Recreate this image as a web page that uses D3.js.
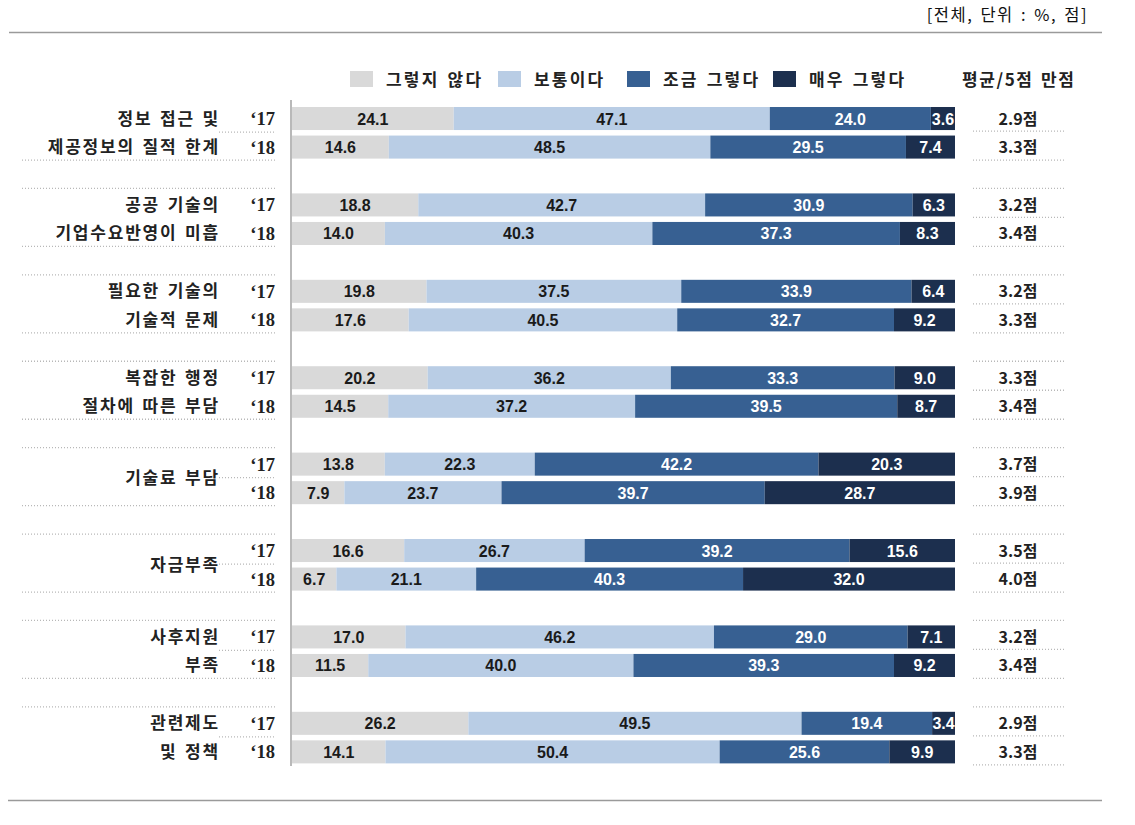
<!DOCTYPE html>
<html><head><meta charset="utf-8">
<script src="https://cdn.jsdelivr.net/npm/d3@7"></script>
<style>
html,body{margin:0;padding:0;background:#fff;}
svg{display:block;}
</style></head>
<body>
<script>
// ---------------- data ----------------
const groups = ["g1","g2","g3","g4","g5","g6","g7","g8"];
const groupLabels = [
  ["정보 접근 및","제공정보의 질적 한계"],
  ["공공 기술의","기업수요반영이 미흡"],
  ["필요한 기술의","기술적 문제"],
  ["복잡한 행정","절차에 따른 부담"],
  ["기술료 부담"],
  ["자금부족"],
  ["사후지원","부족"],
  ["관련제도","및 정책"]
];
const years = ["‘17","‘18"];
const seriesNames = ["그렇지 않다","보통이다","조금 그렇다","매우 그렇다"];
const notAgree   = [24.1,14.6, 18.8,14.0, 19.8,17.6, 20.2,14.5, 13.8,7.9, 16.6,6.7, 17.0,11.5, 26.2,14.1];
const neutral    = [47.1,48.5, 42.7,40.3, 37.5,40.5, 36.2,37.2, 22.3,23.7, 26.7,21.1, 46.2,40.0, 49.5,50.4];
const someAgree  = [24.0,29.5, 30.9,37.3, 33.9,32.7, 33.3,39.5, 42.2,39.7, 39.2,40.3, 29.0,39.3, 19.4,25.6];
const veryAgree  = [3.6,7.4, 6.3,8.3, 6.4,9.2, 9.0,8.7, 20.3,28.7, 15.6,32.0, 7.1,9.2, 3.4,9.9];
const avgScore   = ["2.9","3.3", "3.2","3.4", "3.2","3.3", "3.3","3.4", "3.7","3.9", "3.5","4.0", "3.2","3.4", "2.9","3.3"];
const midDotted  = ["g1","g5","g6","g7","g8"];
const unitText = "[전체, 단위 : %, 점]";
const avgHeader = "평균/5점 만점";

// ---------------- build rows ----------------
const keys = ["k0","k1","k2","k3"];
const rows = [];
groups.forEach((g,gi)=>{
  years.forEach((yr,yi)=>{
    const i = gi*2+yi;
    rows.push({group:g, year:yr, k0:notAgree[i], k1:neutral[i], k2:someAgree[i], k3:veryAgree[i], avg:avgScore[i]});
  });
});

const colors = ["#d9d9d9","#b9cde5","#376092","#1c2f4e"];
const textColors = ["#1a1a1a","#1a1a1a","#ffffff","#ffffff"];

const W = 1135, H = 825;
const svg = d3.select("body").append("svg").attr("width",W).attr("height",H);

const KFONT = "'Noto Sans CJK KR','Noto Sans',sans-serif";
const NFONT = "'Liberation Sans',Arial,sans-serif";

// scales
const x = d3.scaleLinear().domain([0,1]).range([292,955]);
const yG = d3.scaleBand().domain(groups).range([89.6, 89.6+8*86.4]).padding(0);
const yY = d3.scaleBand().domain(years).range([0, yG.bandwidth()]).paddingInner(0.193).paddingOuter(0.61);
const bh = yY.bandwidth();
const rowY = r => yG(r.group) + yY(r.year);
const cy17 = g => yG(g) + yY(years[0]) + bh/2;
const cy18 = g => yG(g) + yY(years[1]) + bh/2;

// header text and rules
svg.append("text").attr("x",1088).attr("y",21).attr("text-anchor","end")
  .attr("font-family",KFONT).attr("font-size",16.5).attr("fill","#111")
  .attr("letter-spacing",1.5).attr("word-spacing",2).text(unitText);
svg.append("line").attr("x1",9).attr("x2",1102).attr("y1",32.5).attr("y2",32.5).attr("stroke","#9a9a9a").attr("stroke-width",1.5);
svg.append("line").attr("x1",8).attr("x2",1102).attr("y1",800.5).attr("y2",800.5).attr("stroke","#9a9a9a").attr("stroke-width",1.5);

// legend
const legX = [350,498,627,773];
const leg = svg.append("g");
seriesNames.forEach((n,i)=>{
  leg.append("rect").attr("x",legX[i]).attr("y",71).attr("width",23).attr("height",16).attr("fill",colors[i]);
  leg.append("text").attr("x",legX[i]+36).attr("y",86).attr("font-family",KFONT).attr("font-weight","bold")
    .attr("font-size",17).attr("fill","#222").attr("letter-spacing",2.2).attr("word-spacing",2).text(n);
});
leg.append("text").attr("x",962).attr("y",86).attr("font-family",KFONT).attr("font-weight","bold")
  .attr("font-size",17).attr("fill","#222").attr("letter-spacing",1.6).attr("word-spacing",2).text(avgHeader);

// stacked bars (100% normalized)
const stack = d3.stack().keys(keys).offset(d3.stackOffsetExpand);
const stacked = stack(rows);
const layers = svg.append("g").selectAll("g").data(stacked).join("g").attr("fill",(d,i)=>colors[i]);
layers.selectAll("rect").data(d=>d).join("rect")
  .attr("x",d=>x(d[0])).attr("width",d=>x(d[1])-x(d[0]))
  .attr("y",d=>rowY(d.data)).attr("height",bh);

// bar labels
const lab = svg.append("g").attr("font-family",NFONT).attr("font-weight","bold").attr("font-size",16)
  .attr("text-anchor","middle");
stacked.forEach((layer,li)=>{
  lab.selectAll(null).data(layer).join("text")
    .attr("x",d=>(x(d[0])+x(d[1]))/2)
    .attr("y",d=>rowY(d.data)+bh/2+6)
    .attr("fill",textColors[li])
    .text(d=>d.data[keys[li]].toFixed(1));
});

// vertical axis line
svg.append("line").attr("x1",291).attr("x2",291).attr("y1",100).attr("y2",766)
  .attr("stroke","#8a8a8a").attr("stroke-width",1.2);

// dotted separators
const dot = svg.append("g").attr("stroke","#b8b8b8").attr("stroke-width",1.3).attr("stroke-dasharray","1,2");
groups.forEach((g,gi)=>{
  const top = cy17(g)-16.5, mid = cy17(g)+12.5, bot = cy18(g)+13;
  if(gi>0){
    dot.append("line").attr("x1",22).attr("x2",275).attr("y1",top).attr("y2",top);
    dot.append("line").attr("x1",973).attr("x2",1065).attr("y1",top).attr("y2",top);
  }
  if(gi<groups.length-1){
    dot.append("line").attr("x1",22).attr("x2",275).attr("y1",bot).attr("y2",bot);
  }
  dot.append("line").attr("x1",973).attr("x2",1065).attr("y1",bot).attr("y2",bot);
  dot.append("line").attr("x1",973).attr("x2",1065).attr("y1",mid).attr("y2",mid);
  if(midDotted.includes(g)){
    dot.append("line").attr("x1",219).attr("x2",275).attr("y1",mid+1).attr("y2",mid+1);
  }
});

// group labels
const gl = svg.append("g").attr("font-family",KFONT).attr("font-weight","bold").attr("font-size",17)
  .attr("fill","#222").attr("text-anchor","end").attr("letter-spacing",1.8).attr("word-spacing",2);
groups.forEach((g,gi)=>{
  const lines = groupLabels[gi];
  if(lines.length===2){
    gl.append("text").attr("x",220).attr("y",cy17(g)+6).text(lines[0]);
    gl.append("text").attr("x",220).attr("y",cy18(g)+6).text(lines[1]);
  } else {
    gl.append("text").attr("x",220).attr("y",(cy17(g)+cy18(g))/2+6).text(lines[0]);
  }
});

// year labels
const yl = svg.append("g").attr("font-family","'Liberation Serif','DejaVu Serif',serif").attr("font-weight","bold")
  .attr("font-size",18.5).attr("fill","#222").attr("text-anchor","end");
rows.forEach(r=>{
  yl.append("text").attr("x",275).attr("y",rowY(r)+bh/2+6.5).text(r.year);
});

// average scores
const av = svg.append("g").attr("font-family",KFONT).attr("font-weight","bold").attr("font-size",16)
  .attr("fill","#222").attr("text-anchor","middle");
rows.forEach(r=>{
  av.append("text").attr("x",1018).attr("y",rowY(r)+bh/2+6).text(r.avg+"점");
});
</script>
</body></html>
